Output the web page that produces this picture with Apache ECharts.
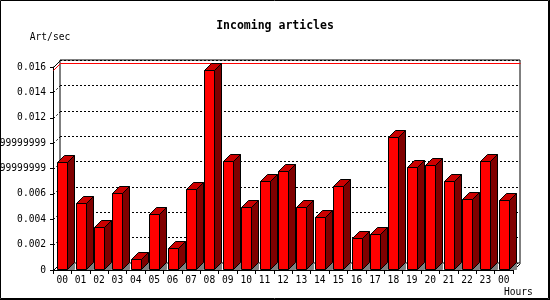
<!DOCTYPE html>
<html>
<head>
<meta charset="utf-8">
<script src="https://cdn.jsdelivr.net/npm/echarts@6/dist/echarts.min.js"></script>
<style>
html,body{margin:0;padding:0;background:#fff;}
#chart{width:550px;height:300px;}
</style>
</head>
<body>
<div id="chart"></div>
<script>
const hours = ["00","01","02","03","04","05","06","07","08","09","10","11","12","13","14","15","16","17","18","19","20","21","22","23","00"];
const artPerSec = [0.0085,0.00525,0.0034,0.0061,0.00085,0.00445,0.0017,0.0064,0.0158,0.0086,0.005,0.007,0.0078,0.005,0.00415,0.00665,0.0025,0.0028,0.0105,0.0081,0.0083,0.007,0.0056,0.0086,0.0055];
const yTicks = [0,0.002,0.004,0.006,0.008,0.01,0.012,0.014,0.016];
const yTickLabels = ["0","0.002","0.004","0.006","0.0079999999999999","0.0099999999999999","0.012","0.014","0.016"];

const DEPTH = 7;
const FONT = "'DejaVu Sans Mono', monospace";
const maxVal = Math.max.apply(null, artPerSec);

const chart = echarts.init(document.getElementById('chart'), null, {renderer:'canvas'});

function renderBar(params, api) {
  const i = api.value(0), v = api.value(1);
  const top = api.coord([i, v]);
  const bot = api.coord([i, 0]);
  const band = api.size([1, 0])[0];
  const w = Math.round(band * 0.57);
  const d = DEPTH;
  const x0 = Math.round(top[0] - w / 2) + 0.5;
  const x1 = x0 + w;
  const yT = Math.round(top[1]) + 0.5;
  const yB = Math.round(bot[1]) - 0.5;
  return {type:'group', children:[
    {type:'polygon', shape:{points:[[x1,yB],[x1+d,yB-d],[x1+d,yB]]}, style:{fill:'#808080', stroke:'#808080', lineWidth:1}},
    {type:'polygon', shape:{points:[[x1,yT],[x1+d,yT-d],[x1+d,yB-d],[x1,yB]]}, style:{fill:'#800000', stroke:'#000', lineWidth:1}},
    {type:'polygon', shape:{points:[[x0,yT],[x0+d,yT-d],[x1+d,yT-d],[x1,yT]]}, style:{fill:'#cc0000', stroke:'#000', lineWidth:1}},
    {type:'rect', shape:{x:x0, y:yT, width:w, height:yB-yT}, style:{fill:'#ff0000', stroke:'#000', lineWidth:1}}
  ]};
}

function renderFrame(params, api) {
  const t = api.value(1);
  const cs = params.coordSys;
  const d = DEPTH;
  const left = Math.round(cs.x) + 0.5;
  const right = Math.round(cs.x + cs.width) + 0.5;
  const y = Math.round(api.coord([0, t])[1]) + 0.5;
  const solid = (t === yTicks[0] || t === yTicks[yTicks.length - 1]);
  const children = [
    {type:'line', shape:{x1:left, y1:y, x2:left+d, y2:y-d},
     style:{stroke:'#000', lineWidth:1, lineDash: solid ? null : [2,2]}}
  ];
  if (t === yTicks[0]) {
    children.push({type:'line', shape:{x1:right, y1:y, x2:right+d, y2:y-d}, style:{stroke:'#000', lineWidth:1}});
  }
  return {type:'group', children: children};
}

function renderMaxLine(params, api) {
  const cs = params.coordSys;
  const d = DEPTH;
  const left = Math.round(cs.x) + 0.5;
  const right = Math.round(cs.x + cs.width) + 0.5;
  const y = Math.round(api.coord([0, api.value(1)])[1]) + 0.5;
  return {type:'polyline', shape:{points:[[left,y],[left+d,y-d],[right+d,y-d]]}, style:{stroke:'#ff0000', lineWidth:1, fill:null}};
}

const option = {
  backgroundColor:'#fff',
  animation:false,
  title:{
    text:'Incoming articles', left:'center', top:20, padding:0,
    textStyle:{fontFamily:FONT, fontSize:11.5, fontWeight:'bold', color:'#000'}
  },
  grid:[
    {left:53, right:37, top:67, bottom:30, show:false, containLabel:false, outerBoundsMode:'none'},
    {left:60, right:30, top:60, bottom:37, show:true, borderColor:'#000', borderWidth:1, backgroundColor:'transparent', z:0, containLabel:false, outerBoundsMode:'none'}
  ],
  xAxis:[
    {type:'category', gridIndex:0, data:hours, boundaryGap:true,
     name:'Hours', nameLocation:'end', nameGap:-9,
     nameTextStyle:{fontFamily:FONT, fontSize:9.6, color:'#000', verticalAlign:'top', padding:[17,0,0,0]},
     axisLine:{lineStyle:{color:'#000', width:1}},
     axisTick:{show:true, length:4, interval:0, lineStyle:{color:'#000'}},
     axisLabel:{interval:0, margin:5, fontFamily:FONT, fontSize:9.6, color:'#000'},
     splitLine:{show:false}},
    {type:'category', gridIndex:1, data:hours, boundaryGap:true, show:true,
     axisLine:{show:false}, axisTick:{show:false}, axisLabel:{show:false}, splitLine:{show:false}}
  ],
  yAxis:[
    {type:'value', gridIndex:0, min:0, max:0.016, interval:0.002,
     name:'Art/sec', nameLocation:'end', nameGap:25,
     nameTextStyle:{fontFamily:FONT, fontSize:9.6, color:'#000', align:'center', padding:[0,6,0,0]},
     axisLine:{show:true, lineStyle:{color:'#000', width:1}},
     axisTick:{show:true, length:3, lineStyle:{color:'#000'}},
     axisLabel:{margin:7, fontFamily:FONT, fontSize:9.6, color:'#000',
       formatter:function(v){ const k = Math.round(v / 0.002); return yTickLabels[k] !== undefined ? yTickLabels[k] : String(v); }},
     splitLine:{show:false}},
    {type:'value', gridIndex:1, min:0, max:0.016, interval:0.002, show:true,
     axisLine:{show:false}, axisTick:{show:false}, axisLabel:{show:false},
     splitLine:{show:true, lineStyle:{color:'#000', width:1, type:[2,2]}}}
  ],
  series:[
    {type:'custom', name:'frame', xAxisIndex:0, yAxisIndex:0, z:1, silent:true,
     renderItem:renderFrame, data: yTicks.map(function(t){ return [0, t]; })},
    {type:'custom', name:'max', xAxisIndex:0, yAxisIndex:0, z:1, silent:true,
     renderItem:renderMaxLine, data:[[0, maxVal]]},
    {type:'custom', name:'Art/sec', xAxisIndex:0, yAxisIndex:0, z:3,
     renderItem:renderBar, data: artPerSec.map(function(v, i){ return [i, v]; })}
  ],
  graphic:[
    {type:'rect', shape:{x:0.5, y:0.5, width:548, height:298}, style:{fill:null, stroke:'#000', lineWidth:1}, z:100},
    {type:'line', shape:{x1:549.5, y1:0, x2:549.5, y2:300}, style:{stroke:'#000', lineWidth:1}, z:100},
    {type:'line', shape:{x1:0, y1:299.5, x2:550, y2:299.5}, style:{stroke:'#000', lineWidth:1}, z:100}
  ]
};
chart.setOption(option);
</script>
</body>
</html>
